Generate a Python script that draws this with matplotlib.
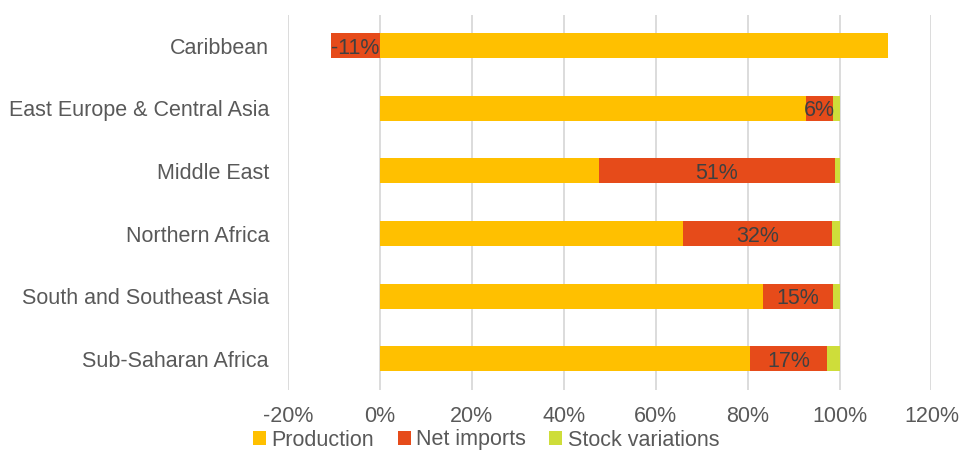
import matplotlib.pyplot as plt
import numpy as np

plt.rcParams['font.family'] = ['Liberation Sans', 'DejaVu Sans']

regions = ['Caribbean', 'East Europe & Central Asia', 'Middle East',
           'Northern Africa', 'South and Southeast Asia', 'Sub-Saharan Africa']
production = [110.6, 92.7, 47.7, 66.0, 83.4, 80.6]
net_imports = [-10.6, 5.9, 51.2, 32.3, 15.2, 16.6]
stock_var = [0.0, 1.4, 1.1, 1.7, 1.4, 2.8]

c_prod = '#FFC000'
c_net = '#E64B1A'
c_stock = '#CEDD3A'

fig = plt.figure(figsize=(9.6, 4.5), dpi=100)
ax = fig.add_axes([288 / 960, 1 - 390 / 450, (931.5 - 288) / 960, (390 - 14.5) / 450])

y = np.arange(len(regions))
h = 0.4
prod = np.array(production)
net = np.array(net_imports)
stock = np.array(stock_var)

ax.barh(y, prod, height=h, color=c_prod, label='Production', zorder=2)
# negative net imports go left of zero, positive ones stack after production
net_left = np.where(net < 0, 0, prod)
ax.barh(y, net, left=net_left, height=h, color=c_net, label='Net imports', zorder=2)
stock_left = np.where(net < 0, prod, prod + net)
ax.barh(y, stock, left=stock_left, height=h, color=c_stock, label='Stock variations', zorder=2)

for i in range(len(regions)):
  cx = net_left[i] + net[i] / 2
  ax.text(cx, y[i], f'{round(net[i])}%', ha='center', va='center_baseline',
          fontsize=15.5, color='#404040', zorder=3)

ax.set_xlim(-20, 120)
ax.set_ylim(len(regions) - 0.5, -0.5)
ax.set_xticks(np.arange(-20, 121, 20))
ax.set_xticklabels([f'{v}%' for v in range(-20, 121, 20)])
ax.set_yticks(y)
ax.set_yticklabels(regions)
ax.xaxis.grid(True, color='#D9D9D9', linewidth=1.3, zorder=0)
ax.set_axisbelow(True)
for s in ax.spines.values():
  s.set_visible(False)
ax.tick_params(axis='both', length=0, labelsize=15.5, colors='#595959')
ax.tick_params(axis='x', pad=11.5)
ax.tick_params(axis='y', pad=13.7)

leg = fig.legend(loc='center left', bbox_to_anchor=(253 / 960, 1 - 440 / 450), ncol=3,
                 frameon=False, fontsize=15.5, handlelength=0.6, handleheight=0.6,
                 handletextpad=0.25, columnspacing=1.1, borderaxespad=0, borderpad=0)
for t in leg.get_texts():
  t.set_color('#595959')

fig.savefig('out.png', dpi=100)
